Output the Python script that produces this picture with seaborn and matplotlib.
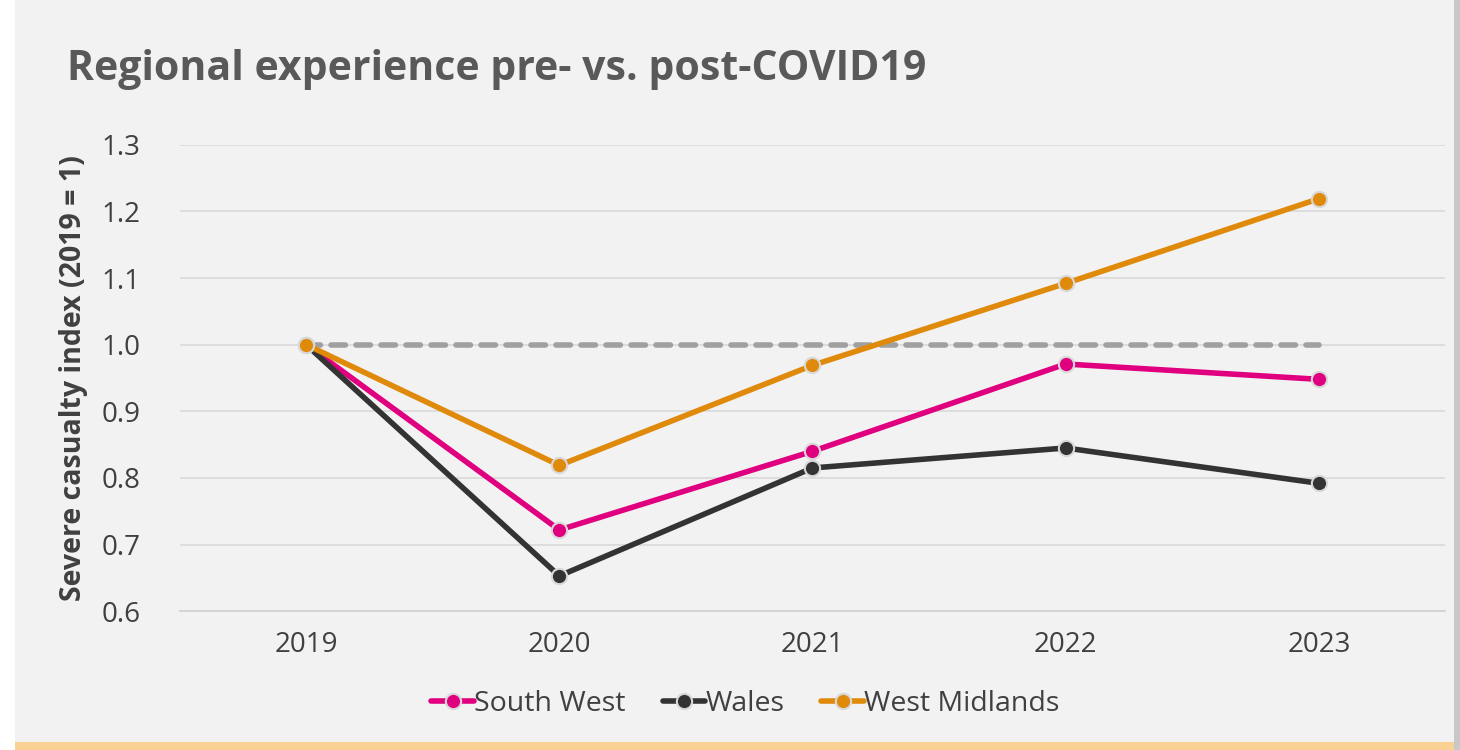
import pandas as pd
import matplotlib.pyplot as plt
import matplotlib.patches as patches
import seaborn as sns

# Data (index, 2019 = 1)
years = ["2019", "2020", "2021", "2022", "2023"]
south_west = [1.0, 0.722, 0.840, 0.971, 0.948]
wales = [1.0, 0.653, 0.815, 0.845, 0.792]
west_midlands = [1.0, 0.819, 0.969, 1.092, 1.219]
baseline = [1.0, 1.0, 1.0, 1.0, 1.0]

regions = ["South West", "Wales", "West Midlands"]
colors = {"South West": "#e0007f", "Wales": "#333333", "West Midlands": "#e08a0b"}

df = pd.DataFrame({
    "Year": years * 3,
    "Index": south_west + wales + west_midlands,
    "Region": ["South West"] * 5 + ["Wales"] * 5 + ["West Midlands"] * 5,
})
df["pos"] = df["Year"].map({y: i for i, y in enumerate(years)})

sns.set_style("white")
plt.rcParams["font.family"] = ["Open Sans", "DejaVu Sans"]

fig = plt.figure(figsize=(14.6, 7.5), dpi=100)
fig.patch.set_facecolor("white")

# grey panel + orange strip at the bottom
fig.add_artist(patches.Rectangle((0.010, 0.0), 0.986, 1.0, transform=fig.transFigure,
                                 facecolor="#f2f2f2", edgecolor="none", zorder=-10))
fig.add_artist(patches.Rectangle((0.996, 0.0), 0.004, 1.0, transform=fig.transFigure,
                                 facecolor="#c8c8c8", edgecolor="none", zorder=-10))
fig.add_artist(patches.Rectangle((0.010, 0.0), 0.986, 0.011, transform=fig.transFigure,
                                 facecolor="#f9d193", edgecolor="none", zorder=-9))

ax = fig.add_axes([0.123, 0.185, 0.867, 0.622])
ax.set_facecolor("#f2f2f2")

# baseline at 1.0
ax.plot(range(len(years)), baseline, color="#a0a0a0", linewidth=4,
        dashes=(2.6, 1.9), dash_capstyle="round", zorder=2)

sns.lineplot(data=df, x="pos", y="Index", hue="Region", hue_order=regions,
             palette=colors, marker="o", markersize=11, markeredgecolor="#d8d8d8",
             markeredgewidth=1.5, linewidth=4, ax=ax, zorder=3)

ax.set_xlim(-0.5, 4.5)
ax.set_ylim(0.6, 1.3)
ax.set_yticks([0.6, 0.7, 0.8, 0.9, 1.0, 1.1, 1.2, 1.3])
ax.set_yticklabels([f"{v:.1f}" for v in ax.get_yticks()])
ax.set_xticks(range(len(years)))
ax.set_xticklabels(years)
ax.set_xticks([i - 0.5 for i in range(len(years) + 1)], minor=True)
ax.tick_params(axis="x", which="major", length=0, pad=14, labelsize=20, labelcolor="#404040")
ax.tick_params(axis="x", which="minor", length=7, width=1, color="#d0d0d0", direction="out")
ax.tick_params(axis="y", length=0, pad=28, labelsize=20, labelcolor="#404040")

ax.yaxis.grid(True, color="#d9d9d9", linewidth=1.2)
ax.set_axisbelow(True)
for s in ["top", "right", "left"]:
    ax.spines[s].set_visible(False)
ax.spines["bottom"].set_color("#d0d0d0")
ax.spines["bottom"].set_linewidth(1.2)

ax.set_xlabel("")
ax.set_ylabel("Severe casualty index (2019 = 1)", fontsize=20.5, fontweight="bold",
              color="#404040", labelpad=10)

fig.text(0.046, 0.907, "Regional experience pre- vs. post-COVID19", fontsize=29.5,
         fontweight="bold", color="#595959", va="center", ha="left")

leg = ax.legend(loc="upper center", bbox_to_anchor=(0.447, -0.145), ncol=3, frameon=False,
                fontsize=20.5, handlelength=1.5, handletextpad=0.0, columnspacing=1.3,
                borderaxespad=0)
for t in leg.get_texts():
    t.set_color("#404040")

fig.savefig("out.png", dpi=100, facecolor=fig.get_facecolor())
